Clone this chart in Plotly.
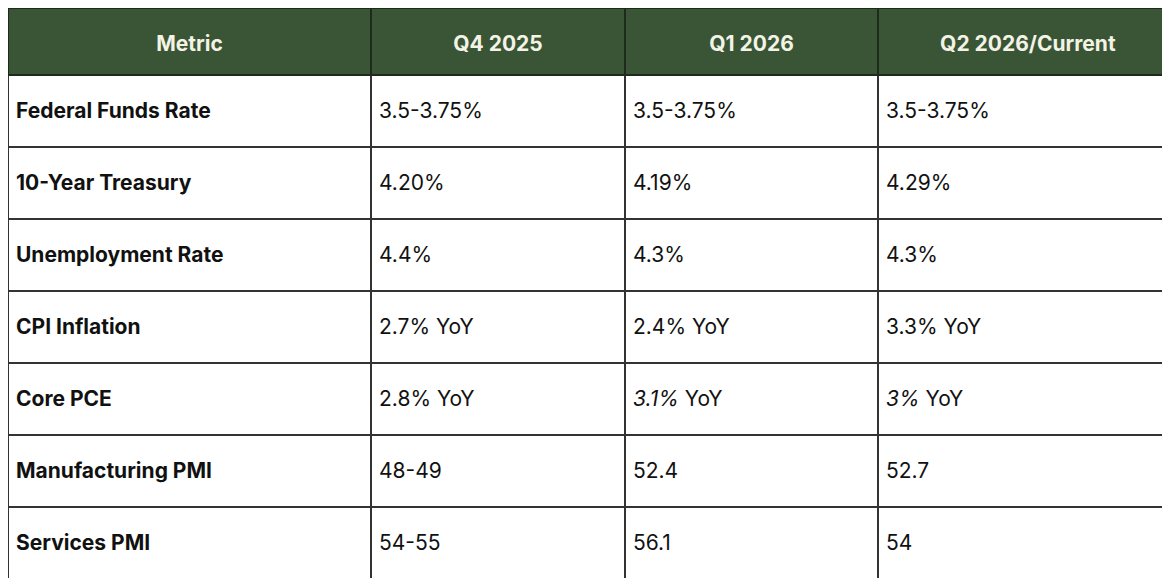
import plotly.graph_objects as go

headers = ["Metric", "Q4 2025", "Q1 2026", "Q2 2026/Current"]
metrics = ["Federal Funds Rate", "10-Year Treasury", "Unemployment Rate", "CPI Inflation",
           "Core PCE", "Manufacturing PMI", "Services PMI"]
q4_2025 = ["3.5-3.75%", "4.20%", "4.4%", "2.7% YoY", "2.8% YoY", "48-49", "54-55"]
q1_2026 = ["3.5-3.75%", "4.19%", "4.3%", "2.4% YoY", "<i>3.1%</i> YoY", "52.4", "56.1"]
q2_2026 = ["3.5-3.75%", "4.29%", "4.3%", "3.3% YoY", "<i>3%</i> YoY", "52.7", "54"]

def pad(v):
    return "<span style='font-size:8px'> </span><br>" + v

fig = go.Figure(go.Table(
    columnwidth=[363, 254, 253, 300],
    header=dict(
        values=[pad(f"<b>{h}</b>") for h in headers],
        fill_color="#3a5535",
        font=dict(family="Inter", size=21, color="#f3f3e6"),
        align="center",
        height=67,
        line=dict(color="#1e2a1b", width=1.5),
    ),
    cells=dict(
        values=[[pad(f"<b>{m}</b>") for m in metrics],
                [pad(v) for v in q4_2025], [pad(v) for v in q1_2026], [pad(v) for v in q2_2026]],
        fill_color="white",
        font=dict(family="Inter", size=21, color="#111111"),
        align="left",
        height=72,
        line=dict(color="#333333", width=1.2),
    ),
))
fig.update_layout(width=1170, height=578, margin=dict(l=0, r=0, t=0, b=0),
                  paper_bgcolor="white")
fig.write_html("out.html")
